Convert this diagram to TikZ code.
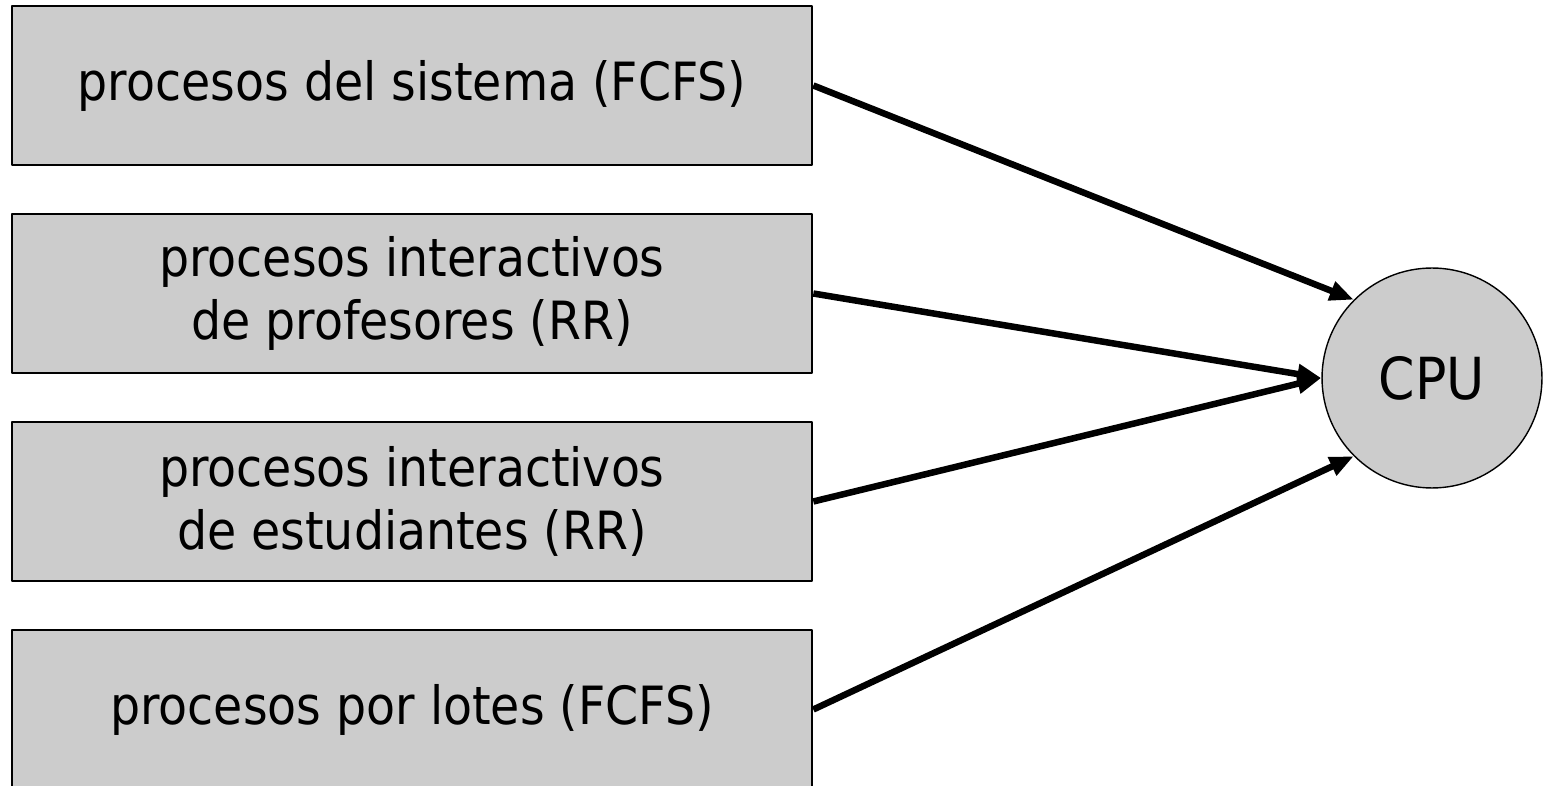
\documentclass[tikz,border=0pt]{standalone}
\usepackage{fontspec}
\setmainfont{DejaVu Sans Condensed}
\usetikzlibrary{arrows.meta}
\definecolor{cajagris}{HTML}{CCCCCC}
\begin{document}
\begin{tikzpicture}[x=0.02cm, y=-0.02cm, line join=round,
		font=\fontsize{30}{36}\selectfont,
		cola/.style={draw, line width=1.6pt, fill=cajagris, minimum width=16cm, minimum height=3.18cm, align=center, inner sep=0pt},
		cpu/.style={draw, circle, line width=0.8pt, fill=cajagris, minimum size=4.4cm, inner sep=0pt, font=\fontsize{33}{38}\selectfont},
		flecha/.style={line width=3.7pt, -{Triangle[length=0.48cm, width=0.38cm]}}]
		\useasboundingbox (0,0) rectangle (1545,786);
		\clip (0,0) rectangle (1545,786);
		% colas de procesos
		\node[cola] (sistema) at (412,85.5) {procesos del sistema (FCFS)};
		\node[cola] (profes) at (412,293.5) {procesos interactivos\\de profesores (RR)};
		\node[cola] (estud) at (412,501.5) {procesos interactivos\\de estudiantes (RR)};
		\node[cola] (lotes) at (412,709.5) {procesos por lotes (FCFS)};
		% procesador
		\node[cpu] (cpu) at (1432,378) {CPU};
		\draw[flecha] (sistema.east) -- (cpu.north west);
		\draw[flecha] (profes.east) -- (cpu.west);
		\draw[flecha] (estud.east) -- (cpu.west);
		\draw[flecha] (lotes.east) -- (cpu.south west);
\end{tikzpicture}
\end{document}
